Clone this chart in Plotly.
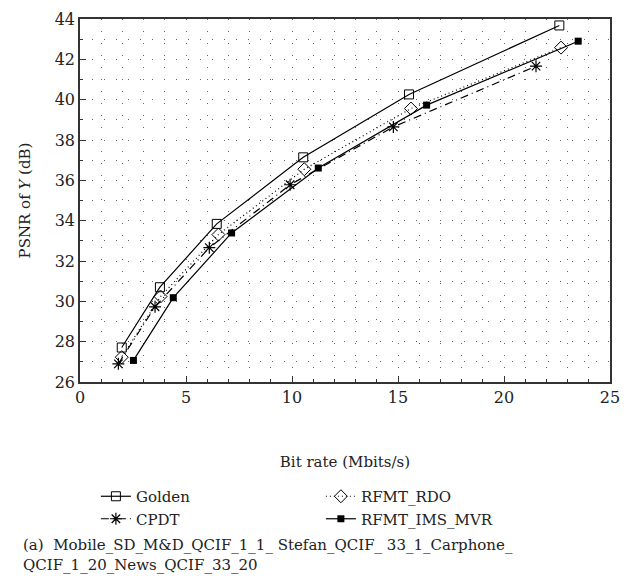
import plotly.graph_objects as go

# Rate-distortion points: bit rate (Mbits/s) vs PSNR of Y (dB)
golden_rate = [1.97, 3.77, 6.45, 10.53, 15.52, 22.61]
golden_psnr = [27.71, 30.70, 33.84, 37.14, 40.26, 43.68]

rdo_rate = [1.97, 3.80, 6.53, 10.58, 15.61, 22.69]
rdo_psnr = [27.23, 30.24, 33.31, 36.55, 39.56, 42.58]

cpdt_rate = [1.81, 3.54, 6.10, 9.91, 14.78, 21.51]
cpdt_psnr = [26.90, 29.73, 32.66, 35.78, 38.65, 41.66]

mvr_rate = [2.52, 4.40, 7.15, 11.24, 16.35, 23.50]
mvr_psnr = [27.07, 30.18, 33.39, 36.61, 39.73, 42.90]

SERIF = "DejaVu Serif"

fig = go.Figure()

fig.add_trace(go.Scatter(
    x=golden_rate, y=golden_psnr, name="Golden", mode="lines+markers",
    line=dict(color="black", width=1.2),
    marker=dict(symbol="square-open", size=9, color="black", line=dict(width=1)),
))
fig.add_trace(go.Scatter(
    x=rdo_rate, y=rdo_psnr, name="RFMT_RDO", mode="lines+markers",
    line=dict(color="black", width=1.2, dash="1px,3px"),
    marker=dict(symbol="diamond-open", size=10, color="black", line=dict(width=1)),
))
fig.add_trace(go.Scatter(
    x=cpdt_rate, y=cpdt_psnr, name="CPDT", mode="lines+markers",
    line=dict(color="black", width=1.2, dash="8px,4px,1px,4px"),
    marker=dict(symbol="asterisk-open", size=10, color="black", line=dict(width=1.2)),
))
fig.add_trace(go.Scatter(
    x=mvr_rate, y=mvr_psnr, name="RFMT_IMS_MVR", mode="lines+markers",
    line=dict(color="black", width=1.2),
    marker=dict(symbol="square", size=7, color="black"),
))

axis_common = dict(
    showline=True, linecolor="#333", linewidth=1.5, mirror=True,
    ticks="inside", ticklen=6, tickcolor="#333", tickwidth=1.2,
    showgrid=True, gridcolor="#666", gridwidth=1, griddash="1px,11px",
    zeroline=False,
    tickfont=dict(family=SERIF, size=16, color="#222"),
    minor=dict(dtick=1, ticks="inside", ticklen=3, tickcolor="#333",
               showgrid=True, gridcolor="#666", gridwidth=1, griddash="1px,11px"),
)

fig.update_xaxes(
    range=[0, 25], dtick=5, tick0=0,
    title=dict(text="Bit rate (Mbits/s)", font=dict(family=SERIF, size=15, color="#222"),
               standoff=51),
    **axis_common,
)
fig.update_yaxes(
    range=[26, 44], dtick=2, tick0=26,
    title=dict(text="PSNR of <i>Y</i> (dB)", font=dict(family=SERIF, size=15, color="#222"),
               standoff=20),
    **axis_common,
)

fig.update_layout(
    width=634, height=579,
    margin=dict(l=80, r=24, t=10, b=197),
    paper_bgcolor="white", plot_bgcolor="white",
    font=dict(family=SERIF),
    showlegend=True,
    legend=dict(
        orientation="h", x=0.03, xanchor="left", y=-0.27, yanchor="top",
        entrywidth=180, entrywidthmode="pixels",
        font=dict(family=SERIF, size=15, color="#222"),
        itemwidth=30, tracegroupgap=0, bgcolor="rgba(0,0,0,0)",
    ),
    annotations=[
        dict(
            text="(a)  Mobile_SD_M&amp;D_QCIF_1_1_ Stefan_QCIF_ 33_1_Carphone_<br>QCIF_1_20_News_QCIF_33_20",
            xref="paper", yref="paper", x=-0.112, y=-0.42,
            xanchor="left", yanchor="top", align="left", showarrow=False,
            font=dict(family=SERIF, size=15, color="#222"),
        )
    ],
)

fig.write_html("out.html")
